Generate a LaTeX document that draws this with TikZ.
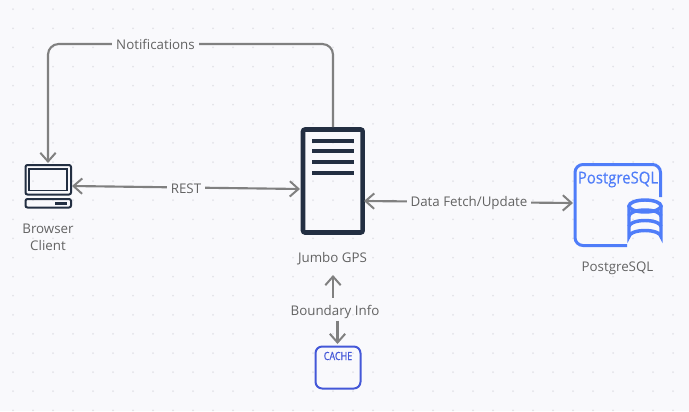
\documentclass[tikz,border=0pt]{standalone}
\usepackage{fontspec}
\setmainfont{Open Sans}
\newfontfamily\pgtitlefont[FakeStretch=0.91,FakeBold=0.3]{Open Sans}
\newfontfamily\cachefont[FakeStretch=0.8,FakeBold=0.5]{Open Sans}
\usetikzlibrary{arrows.meta}
\definecolor{bgc}{HTML}{F9F9FC}
\definecolor{dotc}{HTML}{E3E3E8}
\definecolor{linec}{HTML}{808080}
\definecolor{txtc}{HTML}{636363}
\definecolor{navy}{HTML}{232F42}
\definecolor{pgblue}{HTML}{4F7DF9}
\definecolor{cacheblue}{HTML}{4458D8}
\tikzset{
 x=0.75pt,y=-0.75pt,
 conn/.style={draw=linec,line width=1.6pt,{Straight Barb[length=6.5pt,width=11.5pt,line width=1.5pt]}-{Straight Barb[length=6.5pt,width=11.5pt,line width=1.5pt]}},
 connin/.style={draw=linec,line width=1.6pt,-{Straight Barb[length=6.5pt,width=11.5pt,line width=1.5pt]}},
 lab/.style={text=txtc,font=\fontsize{10pt}{13pt}\selectfont,align=center,inner sep=0pt},
 onlinelab/.style={lab,fill=bgc,inner xsep=3pt,inner ysep=2pt},
 pgstroke/.style={draw=pgblue,line width=2.25pt},
 cylstroke/.style={draw=pgblue,line width=2.6pt},
}
\begin{document}
\begin{tikzpicture}
\useasboundingbox (0,0) rectangle (689,411);
\fill[bgc] (0,0) rectangle (689,411);
\foreach \i in {0,...,34}{\foreach \j in {0,...,21}{
  \fill[dotc] (13+20*\i,9.2+19.1*\j) circle (0.75pt);
}}
% anchors
\coordinate (clientR) at (72,186);
\coordinate (clientT) at (48,163);
\coordinate (srvL) at (300,189);
\coordinate (srvT) at (333,127);
\coordinate (srvR) at (364,201);
\coordinate (srvB) at (333,275);
\coordinate (pgL) at (573,203);
\coordinate (cacheT) at (337.5,344);
% client icon
\draw[navy,line width=1.5pt,rounded corners=1.5pt] (25.5,165) rectangle (71,194.5);
\draw[navy,line width=1.4pt] (29,169) rectangle (67,190.5);
\draw[navy,line width=1.5pt,rounded corners=1.5pt] (25.5,199) rectangle (71,207.5);
\fill[navy] (54.5,201.5) rectangle (67,204.5);
\node[lab] (clientlab) at (48,237.5) {Browser\\[-0.5pt]Client};
% server icon
\draw[navy,line width=3.4pt,rounded corners=1.5pt] (303,129.5) rectangle (362.7,232.5);
\foreach \yy in {140.7,151.3,162,172.7}{\fill[navy] (311.7,\yy-2.1) rectangle (354.3,\yy+2.1);}
\node[lab] (srvlab) at (332.5,258.5) {Jumbo GPS};
% postgres
\draw[pgstroke,rounded corners=6pt] (627,245.5) -- (575,245.5) -- (575,164.5) -- (660.5,164.5) -- (660.5,197);
\path[cylstroke] (629,206) -- (629,236.5) arc[start angle=180,end angle=360,x radius=16,y radius=6] -- (661,206);
\path[cylstroke] (645,206) ellipse[x radius=16,y radius=6];
\path[cylstroke] (629,216) arc[start angle=180,end angle=360,x radius=16,y radius=6];
\path[cylstroke] (629,226.5) arc[start angle=180,end angle=360,x radius=16,y radius=6];
\node[text=pgblue,inner sep=0pt,font=\pgtitlefont\fontsize{12.3pt}{14pt}\selectfont] (pgtitle) at (618,179.5) {PostgreSQL};
\node[lab] (pglab) at (617.5,268) {PostgreSQL};
% cache
\draw[cacheblue,line width=1.5pt,rounded corners=5pt] (315.5,346.5) rectangle (360.5,388.5);
\node[text=cacheblue,inner sep=0pt,font=\cachefont\fontsize{8.4pt}{9pt}\selectfont] (cachetitle) at (338,356) {CACHE};
% labels on lines
\coordinate (ntr) at (333,44);
\coordinate (ntl) at (48,44);
\draw[connin,rounded corners=8pt] (srvT) -- (ntr) -- (ntl) -- (clientT);
\node[onlinelab] (notif) at (155.5,44.5) {Notifications};
\draw[conn] (clientR) -- (srvL);
\node[onlinelab] (rest) at (186,189) {REST};
\draw[conn] (srvR) -- (pgL);
\node[onlinelab] (data) at (469,203) {Data Fetch/Update};
\node[lab] (bound) at (335,311.5) {Boundary Info};
\coordinate (bt) at (333,297.7);
\coordinate (bb) at (337.5,320.7);
\draw[connin] (bt) -- (srvB);
\draw[connin] (bb) -- (cacheT);
\end{tikzpicture}
\end{document}
